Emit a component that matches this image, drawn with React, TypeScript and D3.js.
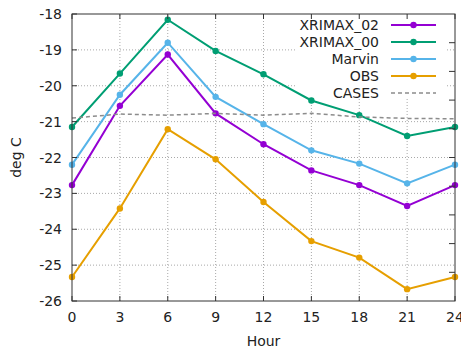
import React from 'react';
import * as d3 from 'd3';

const hours = [0, 3, 6, 9, 12, 15, 18, 21, 24];

const xrimax02 = [-22.77, -20.56, -19.13, -20.77, -21.63, -22.36, -22.77, -23.35, -22.77];
const xrimax00 = [-21.15, -19.66, -18.16, -19.03, -19.68, -20.41, -20.82, -21.40, -21.15];
const marvin = [-22.2, -20.25, -18.8, -20.31, -21.07, -21.8, -22.17, -22.72, -22.2];
const obs = [-25.33, -23.42, -21.21, -22.05, -23.24, -24.33, -24.79, -25.67, -25.33];
const cases = [-20.9, -20.79, -20.82, -20.77, -20.82, -20.77, -20.87, -20.91, -20.92];

const yTicks = [-26, -25, -24, -23, -22, -21, -20, -19, -18];
const y2Ticks = [1, 2, 3, 4, 5, 6, 7, 8, 9];

const series = [
  { name: 'XRIMAX_02', values: xrimax02, color: '#9400d3', dashed: false },
  { name: 'XRIMAX_00', values: xrimax00, color: '#009e73', dashed: false },
  { name: 'Marvin', values: marvin, color: '#56b4e9', dashed: false },
  { name: 'OBS', values: obs, color: '#e69f00', dashed: false },
  { name: 'CASES', values: cases, color: '#8c8c8c', dashed: true },
];

const W = 461;
const H = 349;
const margin = { top: 14, right: 6, bottom: 48, left: 72 };
const font = '"DejaVu Sans", sans-serif';

export default function App() {
  const x = d3.scaleLinear().domain([0, 24]).range([margin.left, W - margin.right]);
  const y = d3.scaleLinear().domain([-26, -18]).range([H - margin.bottom, margin.top]);
  const y2 = d3.scaleLinear().domain([0, 10]).range([H - margin.bottom, margin.top]);

  const line = d3.line<number>()
    .x((_, i) => x(hours[i]))
    .y(d => y(d));

  const [x0, x1] = x.range();
  const [yb, yt] = y.range();
  const tick = 5;

  const legendRight = 379;
  const legendTop = 25;
  const legendStep = 17;

  return (
    <div style={{ position: 'absolute', left: 0, top: 0 }}>
      <svg width={W} height={H} style={{ display: 'block', background: '#fff' }}>
        {/* grid */}
        <g stroke="#a8a8a8" strokeWidth={1} strokeDasharray="1,2">
          {hours.slice(1, -1).map(h => (
            <line key={'gx' + h} x1={x(h)} x2={x(h)} y1={yb} y2={yt} />
          ))}
          {yTicks.slice(1, -1).map(t => (
            <line key={'gy' + t} x1={x0} x2={x1} y1={y(t)} y2={y(t)} />
          ))}
        </g>

        {/* key area hides the grid only */}
        <rect x={295} y={yt + 1} width={150} height={84} fill="#fff" />

        {/* series */}
        {series.map(s => (
          <g key={s.name}>
            <path
              d={line(s.values) ?? ''}
              fill="none"
              stroke={s.color}
              strokeWidth={s.dashed ? 1.5 : 2}
              strokeDasharray={s.dashed ? '4,3' : undefined}
            />
            {!s.dashed && s.values.map((v, i) => (
              <circle key={i} cx={x(hours[i])} cy={y(v)} r={3.2} fill={s.color} />
            ))}
          </g>
        ))}

        {/* legend */}
        {series.map((s, i) => {
          const ly = legendTop + i * legendStep;
          return (
            <g key={'lg' + s.name}>
              <text x={legendRight} y={ly + 5} textAnchor="end" fontFamily={font} fontSize={14} fill="#222">
                {s.name}
              </text>
              <line
                x1={391} x2={436} y1={ly} y2={ly}
                stroke={s.color}
                strokeWidth={s.dashed ? 1.5 : 2}
                strokeDasharray={s.dashed ? '4,3' : undefined}
              />
              {!s.dashed && <circle cx={413.5} cy={ly} r={3.2} fill={s.color} />}
            </g>
          );
        })}

        {/* ticks */}
        <g stroke="#333" strokeWidth={1}>
          {hours.map(h => (
            <g key={'tx' + h}>
              <line x1={x(h)} x2={x(h)} y1={yb} y2={yb - tick} />
              <line x1={x(h)} x2={x(h)} y1={yt} y2={yt + tick} />
            </g>
          ))}
          {yTicks.map(t => (
            <g key={'ty' + t}>
              <line x1={x0} x2={x0 + tick} y1={y(t)} y2={y(t)} />
            </g>
          ))}
          {y2Ticks.map(t => (
            <line key={'ty2' + t} x1={x1} x2={x1 - 6} y1={y2(t)} y2={y2(t)} />
          ))}
        </g>

        {/* border */}
        <rect x={x0} y={yt} width={x1 - x0} height={yb - yt} fill="none" stroke="#333" strokeWidth={1} />

        {/* tick labels */}
        <g fontFamily={font} fontSize={14} fill="#222">
          {yTicks.map(t => (
            <text key={'ly' + t} x={x0 - 10} y={y(t) + 5} textAnchor="end">{t}</text>
          ))}
          {hours.map(h => (
            <text key={'lx' + h} x={x(h)} y={yb + 21} textAnchor="middle">{h}</text>
          ))}
        </g>

        {/* axis titles */}
        <text x={(x0 + x1) / 2} y={H - 3} textAnchor="middle" fontFamily={font} fontSize={14} fill="#222">Hour</text>
        <text
          transform={`translate(21,${(yb + yt) / 2}) rotate(-90)`}
          textAnchor="middle"
          fontFamily={font}
          fontSize={14}
          fill="#222"
        >
          deg C
        </text>
      </svg>
    </div>
  );
}
